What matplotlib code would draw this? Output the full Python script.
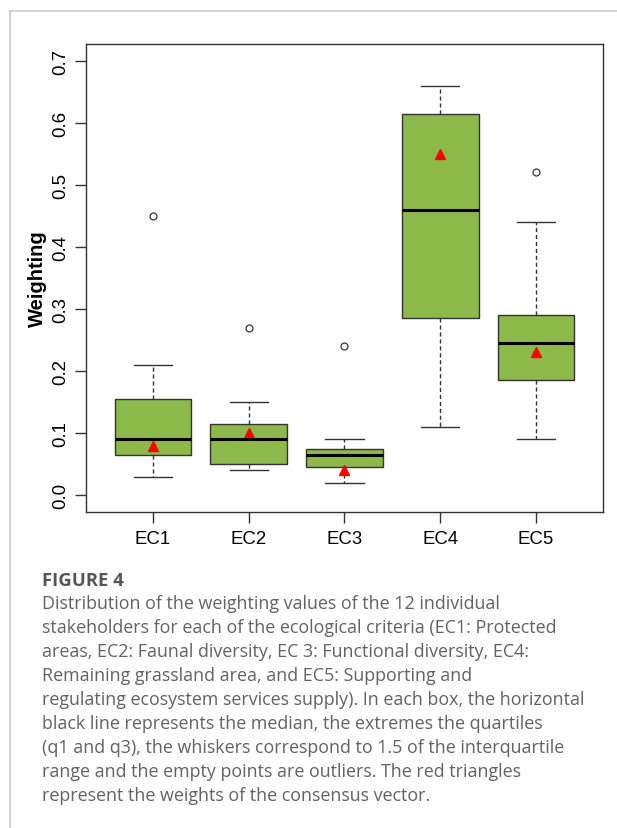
import matplotlib.pyplot as plt
from matplotlib.lines import Line2D

# values
labels = ["EC1", "EC2", "EC3", "EC4", "EC5"]
q1 = [0.065, 0.05, 0.045, 0.285, 0.185]
med = [0.09, 0.09, 0.065, 0.46, 0.245]
q3 = [0.155, 0.115, 0.075, 0.615, 0.29]
whislo = [0.03, 0.04, 0.02, 0.11, 0.09]
whishi = [0.21, 0.15, 0.09, 0.66, 0.44]
outliers = [[0.45], [0.27], [0.24], [], [0.52]]
consensus = [0.08, 0.10, 0.04, 0.55, 0.23]

caption_lines = [
    "Distribution of the weighting values of the 12 individual",
    "stakeholders for each of the ecological criteria (EC1: Protected",
    "areas, EC2: Faunal diversity, EC 3: Functional diversity, EC4:",
    "Remaining grassland area, and EC5: Supporting and",
    "regulating ecosystem services supply). In each box, the horizontal",
    "black line represents the median, the extremes the quartiles",
    "(q1 and q3), the whiskers correspond to 1.5 of the interquartile",
    "range and the empty points are outliers. The red triangles",
    "represent the weights of the consensus vector.",
]

plt.rcParams['font.family'] = ['Liberation Sans', 'DejaVu Sans']

W, H = 617, 829
fig = plt.figure(figsize=(W / 100, H / 100), dpi=100)
ax = fig.add_axes([86/W, 1-513/H, (603-86)/W, (513-45)/H])

stats = []
for i in range(len(labels)):
    stats.append(dict(label=labels[i], q1=q1[i], med=med[i], q3=q3[i],
                      whislo=whislo[i], whishi=whishi[i], fliers=outliers[i]))

pos = list(range(1, len(labels) + 1))
ax.bxp(stats, positions=pos, widths=0.8, patch_artist=True,
       boxprops=dict(facecolor='#8DB84A', edgecolor='#333333', linewidth=1.0),
       medianprops=dict(color='black', linewidth=2.2),
       whiskerprops=dict(color='#333333', linestyle=(0, (3, 2)), linewidth=1.0),
       capprops=dict(color='#333333', linewidth=1.0),
       capwidths=0.4,
       flierprops=dict(marker='o', markerfacecolor='none', markeredgecolor='#333333',
                       markersize=5, markeredgewidth=0.9))
ax.plot(pos, consensus, linestyle='none', marker='^', color='red', markersize=6.5)

ax.set_xlim(0.3, 5.7)
ax.set_ylim(-0.027, 0.727)
ax.set_yticks([0.0, 0.1, 0.2, 0.3, 0.4, 0.5, 0.6, 0.7])
ax.set_yticklabels(["0.0", "0.1", "0.2", "0.3", "0.4", "0.5", "0.6", "0.7"],
                   rotation=90, va='center')
ax.set_xticks(pos)
ax.set_xticklabels(labels)
ax.tick_params(axis='both', labelsize=13.4, length=8, width=1.0, color='#333333', pad=4)
ax.tick_params(axis='x', pad=5)
for s in ax.spines.values():
    s.set_color('#333333')
    s.set_linewidth(1.0)
ax.set_ylabel("Weighting", fontsize=14.5, fontweight='bold', labelpad=4)

# card frame lines
fig.add_artist(Line2D([10/W, 1], [1-12/H, 1-12/H], color='#cccccc', linewidth=1.2))
fig.add_artist(Line2D([10/W, 10/W], [0, 1-12/H], color='#cccccc', linewidth=1.2))

cap_font = ['Open Sans', 'DejaVu Sans']
fig.text(42/W, 1-581/H, "FIGURE 4", family=cap_font,
         fontsize=13.3, fontweight='bold', color='#555555', va='center')
for i, line in enumerate(caption_lines):
    fig.text(42/W, 1-(604.5 + i*23.93)/H, line, family=cap_font,
             fontsize=12.85, color='#626262', va='center')

fig.savefig("out.png", dpi=100)
